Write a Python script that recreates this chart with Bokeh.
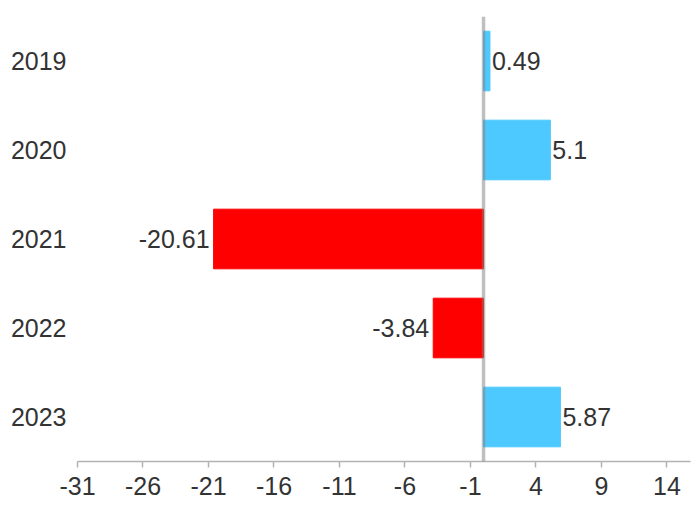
from bokeh.plotting import figure
from bokeh.models import ColumnDataSource, FactorRange, Range1d, FixedTicker, Span
from bokeh.core.properties import value
from bokeh.embed import file_html
from bokeh.resources import INLINE

years = ["2019", "2020", "2021", "2022", "2023"]
values = [0.49, 5.1, -20.61, -3.84, 5.87]
labels = ["0.49", "5.1", "-20.61", "-3.84", "5.87"]
x_ticks = [-31, -26, -21, -16, -11, -6, -1, 4, 9, 14]

POS = "#4dc9ff"
NEG = "#ff0000"
FONT = "Liberation Sans"

src = ColumnDataSource(dict(
    year=years,
    val=values,
    label=labels,
    color=[POS if v >= 0 else NEG for v in values],
    align=["left" if v >= 0 else "right" for v in values],
    xoff=[2 if v >= 0 else -4 for v in values],
))

p = figure(width=692, height=509, output_backend="svg", toolbar_location=None,
           y_range=FactorRange(factors=list(reversed(years)), range_padding=0),
           x_range=Range1d(-31, 15.8),
           min_border_left=77, min_border_right=2, min_border_top=16, min_border_bottom=48)

p.hbar(y="year", left=0, right="val", height=0.67, color="color", source=src)
p.add_layout(Span(location=0, dimension="height", line_color="#808080",
                  line_alpha=0.5, line_width=3.5))

p.text(x="val", y="year", text="label", text_align="align", text_baseline="middle",
       x_offset="xoff", text_font=value(FONT), text_font_size="25px",
       text_color="#333333", source=src)

p.xgrid.visible = False
p.ygrid.visible = False
p.outline_line_color = None

xa = p.xaxis[0]
xa.ticker = FixedTicker(ticks=x_ticks)
xa.major_label_overrides = {t: str(t) for t in x_ticks}
xa.axis_line_color = "#b3b3b3"
xa.axis_line_width = 1.5
xa.major_tick_line_color = "#b3b3b3"
xa.major_tick_line_width = 1.5
xa.major_tick_out = 6
xa.major_tick_in = 0
xa.minor_tick_line_color = None
xa.major_label_text_font = FONT
xa.major_label_text_font_size = "25px"
xa.major_label_text_color = "#333333"
xa.major_label_standoff = 9

ya = p.yaxis[0]
ya.axis_line_color = None
ya.major_tick_line_color = None
ya.minor_tick_line_color = None
ya.major_label_text_font = FONT
ya.major_label_text_font_size = "25px"
ya.major_label_text_color = "#333333"
ya.major_label_standoff = 5

open("out.html", "w").write(file_html(p, INLINE))
